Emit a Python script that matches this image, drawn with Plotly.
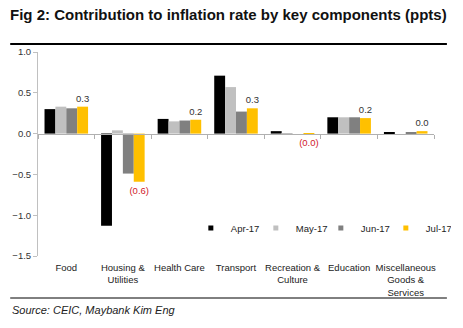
import plotly.graph_objects as go

# Contribution to inflation rate by key components (percentage points)
categories = ["Food", "Housing &<br>Utilities", "Health Care", "Transport",
              "Recreation &<br>Culture", "Education",
              "Miscellaneous<br>Goods &<br>Services"]
months = ["Apr-17", "May-17", "Jun-17", "Jul-17"]
apr_17 = [0.30, -1.13, 0.18, 0.71, 0.03, 0.20, 0.01]
may_17 = [0.33, 0.04, 0.15, 0.57, -0.01, 0.20, 0.00]
jun_17 = [0.31, -0.49, 0.16, 0.27, 0.00, 0.20, 0.01]
jul_17 = [0.33, -0.59, 0.17, 0.31, -0.004, 0.19, 0.03]
y_ticks = [1.0, 0.5, 0.0, -0.5, -1.0, -1.5]

series = [apr_17, may_17, jun_17, jul_17]
colors = ["#000000", "#c0c0c0", "#808080", "#ffc000"]
FONT = "Liberation Sans"
y_min, y_max = -1.5, 1.0

fig = go.Figure()
for name, vals, col in zip(months, series, colors):
    kw = {}
    if name == "Jul-17":
        # latest month carries value labels; negatives shown in red brackets
        kw = dict(
            text=[f"{v:.1f}" if v >= 0 else f"({abs(v):.1f})" for v in vals],
            textposition="outside", constraintext="none",
            textfont=dict(size=9.5, family=FONT,
                          color=["#333333" if v >= 0 else "#d0202a" for v in vals]),
            cliponaxis=False,
        )
    fig.add_trace(go.Bar(x=categories, y=vals, name=name, marker_color=col,
                         marker_line_width=0, showlegend=False, **kw))
    # small square legend keys
    fig.add_trace(go.Scatter(x=[None], y=[None], mode="markers", name=name,
                             marker=dict(symbol="square", size=5, color=col)))

fig.update_layout(
    width=463, height=328,
    margin=dict(l=38, r=26, t=52, b=72),
    paper_bgcolor="white", plot_bgcolor="white",
    barmode="group", bargap=0.23, bargroupgap=0,
    font=dict(family=FONT, size=9.5, color="#333333"),
    title=dict(text="<b>Fig 2: Contribution to inflation rate by key components (ppts)</b>",
               x=10 / 463, xanchor="left", xref="container",
               y=1 - 15 / 328, yanchor="middle", yref="container",
               font=dict(family=FONT, size=15, color="#111111")),
    legend=dict(orientation="h", x=(192 - 38) / 399, xanchor="left",
                y=(256 - 228) / 204, yanchor="middle",
                font=dict(size=9.5, family=FONT, color="#222222"),
                itemwidth=30, entrywidth=20, entrywidthmode="pixels",
                bgcolor="rgba(0,0,0,0)"),
    showlegend=True,
)

fig.update_xaxes(
    type="category", anchor="free", position=(0 - y_min) / (y_max - y_min),
    showline=True, linecolor="#b0b0b0", linewidth=1,
    ticks="outside", tickson="boundaries", ticklen=4, tickcolor="#b0b0b0",
    tickangle=0, automargin=False,
    ticklabelstandoff=125, tickfont=dict(size=9.5, family=FONT, color="#222222"),
    showgrid=False, zeroline=False,
)
fig.update_yaxes(
    range=[y_min, y_max], tickvals=y_ticks, tickformat=".1f",
    showline=True, linecolor="#c0c0c0", linewidth=1,
    ticks="outside", ticklen=4, tickcolor="#c0c0c0",
    tickfont=dict(size=9.5, family=FONT, color="#333333"),
    showgrid=False, zeroline=False,
)

# rule under the title and above the source note
fig.add_shape(type="line", xref="paper", yref="paper",
              x0=(10 - 38) / 399, x1=(450 - 38) / 399,
              y0=(256 - 44) / 204, y1=(256 - 44) / 204,
              line=dict(color="#000000", width=2))
fig.add_shape(type="line", xref="paper", yref="paper",
              x0=(10 - 38) / 399, x1=(450 - 38) / 399,
              y0=(256 - 298) / 204, y1=(256 - 298) / 204,
              line=dict(color="#000000", width=1))
fig.add_annotation(text="<i>Source: CEIC, Maybank Kim Eng</i>",
                   xref="paper", yref="paper", x=(10 - 38) / 399,
                   y=(256 - 310) / 204, xanchor="left", yanchor="middle",
                   showarrow=False,
                   font=dict(family=FONT, size=11, color="#222222"))

fig.write_html("out.html")
